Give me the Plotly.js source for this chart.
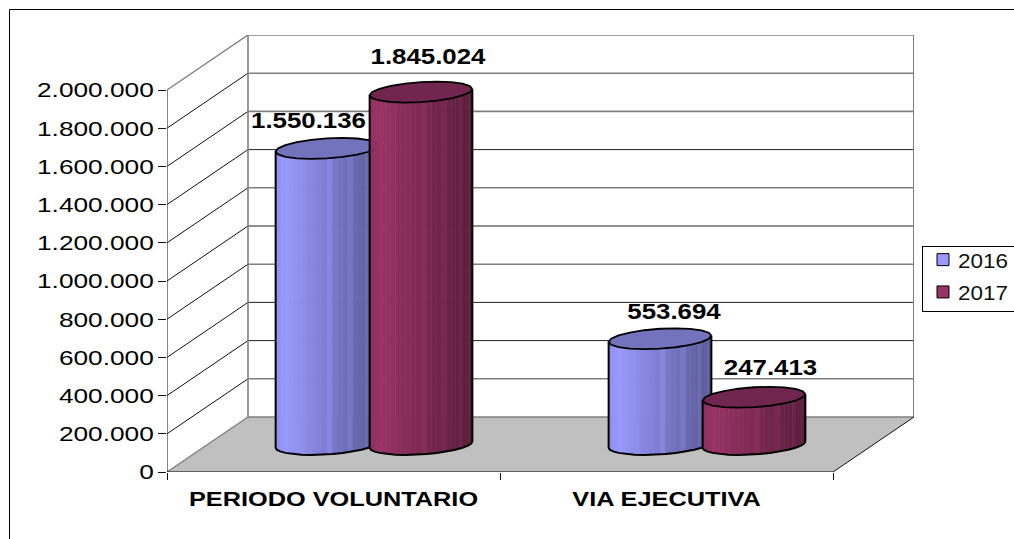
<!DOCTYPE html>
<html><head><meta charset="utf-8">
<script src="https://cdn.plot.ly/plotly-3.0.0.min.js"></script>
<style>html,body{margin:0;padding:0;width:1014px;height:539px;overflow:hidden;background:#fff}</style>
</head><body><div id="chart"></div>
<script>
// ---- data ----
const categories = ['PERIODO VOLUNTARIO', 'VIA EJECUTIVA'];
const seriesNames = ['2016', '2017'];
const values2016 = [1550136, 553694];
const values2017 = [1845024, 247413];
const yTicks = [0, 200000, 400000, 600000, 800000, 1000000, 1200000, 1400000, 1600000, 1800000, 2000000];
// label offset from the top centre of each cylinder, in screen pixels
const labelShift2016 = [[-18.5, -26], [14, -25]];
const labelShift2017 = [[7, -34], [16.5, -28]];
// ---- appearance ----
const gridDark = [false, false, true, true, false, true, false, true, false, false, false];
const colours = {'2016': [153, 153, 255], '2017': [153, 51, 102]};
const topColours = {'2016': '#7272BD', '2017': '#70264F'};
const faintFacets = [15, 19, 23, 26];

// ---- layout geometry: plot area in px, and the oblique projection ----
const W = 1100, H = 600, L = 167, R = 914, T = 35, B = 472;
const pxPerCat = 333, pxPerVal = 382 / 2000000;
const depthPxX = 81, depthPxY = 55;
const DX = depthPxX / pxPerCat, DY = depthPxY / pxPerVal;
const xMax = (R - L) / pxPerCat, yMax = (B - T) / pxPerVal;
const proj = (x, v, d) => [x + d * DX, v + d * DY];

const traces = [];
const line = (pts, color, width) => traces.push({type: 'scatter', mode: 'lines', x: pts.map(p => p[0]), y: pts.map(p => p[1]),
  line: {color, width}, showlegend: false, hoverinfo: 'skip', cliponaxis: false});
const fill = (pts, color, lineColor, lineWidth) => traces.push({type: 'scatter', mode: lineWidth ? 'lines' : 'none', fill: 'toself', fillcolor: color,
  x: pts.map(p => p[0]), y: pts.map(p => p[1]), line: {color: lineColor || color, width: lineWidth || 0},
  showlegend: false, hoverinfo: 'skip', cliponaxis: false});

// walls and floor
const topTick = yTicks[yTicks.length - 1];
fill([proj(0, 0, 0), proj(2, 0, 0), proj(2, 0, 1), proj(0, 0, 1), proj(0, 0, 0)], '#C0C0C0');
yTicks.forEach((v, i) => {
  const edge = i === 0 || i === yTicks.length - 1;
  line([proj(0, v, 1), proj(2, v, 1)], gridDark[i] ? '#222222' : '#7F7F7F', gridDark[i] ? 1 : 1.6);
  line([proj(0, v, 0), proj(0, v, 1)], edge ? '#7F7F7F' : '#111111', edge ? 1.4 : 1);
});
line([proj(0, 0, 1), proj(0, topTick, 1)], '#7F7F7F', 1.6);
line([proj(2, 0, 1), proj(2, topTick, 1)], '#7F7F7F', 2);
line([proj(0, 0, 0), proj(0, topTick, 0)], '#111111', 1);
line([proj(0, 0, 0), proj(2, 0, 0)], '#000000', 1.2);
line([proj(2, 0, 0), proj(2, 0, 1)], '#111111', 1);

// cylinders
const rad = 49 / pxPerCat, depthRad = 0.19, catShift = 47 / pxPerCat;
const tRight = Math.atan2(depthRad * depthPxX, 49);
const rim = (cx, v, t) => proj(cx + rad * Math.cos(t), v, 0.5 + depthRad * Math.sin(t));
function cylinder(cx, v, name) {
  const N = 30, c = colours[name], halfW = Math.hypot(49, depthRad * depthPxX) / pxPerCat;
  const ts = [];
  for (let i = 0; i <= N; i++) ts.push(tRight + Math.PI + Math.PI * i / N);
  for (let i = 0; i < N; i++) {
    const p = rim(cx, 0, (ts[i] + ts[i + 1]) / 2)[0];
    const f = (p - (cx + 0.5 * DX - halfW)) / (2 * halfW);
    let k = (f < 0.1 ? 0.93 + 0.7 * f : 1 - 0.42 * (f - 0.1) / 0.9);
    if (faintFacets.includes(i)) k *= 1.1;
    const col = `rgb(${c.map(a => Math.min(255, Math.round(a * k))).join(',')})`;
    fill([rim(cx, 0, ts[i]), rim(cx, 0, ts[i + 1]), rim(cx, v, ts[i + 1]), rim(cx, v, ts[i]), rim(cx, 0, ts[i])], col, col, 0.6);
  }
  const outline = [rim(cx, v, ts[0])].concat(ts.filter((_, i) => i % 2 === 0).map(t => rim(cx, 0, t)), [rim(cx, v, ts[N])]);
  line(outline, '#000000', 2);
  const ring = [];
  for (let i = 0; i <= 20; i++) ring.push(rim(cx, v, tRight + 2 * Math.PI * i / 20));
  fill(ring, topColours[name], '#000000', 1.8);
}
categories.forEach((_, i) => {
  cylinder(i + 0.5 - catShift, values2016[i], '2016');
  cylinder(i + 0.5 + catShift, values2017[i], '2017');
});

// data labels
const fmt = n => String(n).replace(/\B(?=(\d{3})+$)/g, '.');
const lx = [], ly = [], lt = [];
categories.forEach((_, i) => {
  [[values2016, labelShift2016, -catShift], [values2017, labelShift2017, catShift]].forEach(([vals, sh, off]) => {
    const c = proj(i + 0.5 + off, vals[i], 0.5);
    lx.push(c[0] + sh[i][0] / pxPerCat);
    ly.push(c[1] - sh[i][1] / pxPerVal);
    lt.push(fmt(vals[i]));
  });
});
traces.push({type: 'scatter', mode: 'text', x: lx, y: ly, text: lt, textposition: 'middle center', cliponaxis: false,
  textfont: {family: 'Liberation Sans, Arial, sans-serif', size: 22, color: '#000', weight: 700}, showlegend: false, hoverinfo: 'skip'});

// legend entries
seriesNames.forEach((n, i) => traces.push({type: 'bar', x: [null], y: [null], name: n,
  marker: {color: `rgb(${colours[n].join(',')})`, line: {color: '#000', width: 1}}, hoverinfo: 'skip'}));

const pw = R - L, ph = B - T;
const xp = px => (px - L) / pw, yp = py => (B - py) / ph;
const layout = {
  width: W, height: H, autosize: false, showlegend: true,
  margin: {l: L, r: W - R, t: T, b: H - B, pad: 0, autoexpand: false},
  paper_bgcolor: 'rgba(0,0,0,0)', plot_bgcolor: 'rgba(0,0,0,0)',
  font: {family: 'Liberation Sans, Arial, sans-serif', color: '#000'},
  separators: ',.',
  xaxis: {type: 'linear', range: [0, xMax], showgrid: false, zeroline: false, showline: false, fixedrange: true,
    tickmode: 'array', tickvals: [0.5, 1.5], ticktext: categories, ticks: '', ticklen: 0, ticklabelstandoff: 12,
    tickfont: {size: 21, weight: 700, color: '#000'},
    minor: {tickmode: 'array', tickvals: [0, 1, 2], ticks: 'outside', ticklen: 7, tickwidth: 1, tickcolor: '#111', showgrid: false}},
  yaxis: {type: 'linear', range: [0, yMax], showgrid: false, zeroline: false, showline: false, fixedrange: true,
    tickmode: 'array', tickvals: yTicks, tickformat: ',.0f', ticks: 'outside', ticklen: 8, tickwidth: 1, tickcolor: '#111',
    tickfont: {size: 21, color: '#000'}},
  legend: {x: xp(922), y: yp(245.5), xanchor: 'left', yanchor: 'top', bgcolor: '#fff', bordercolor: '#000', borderwidth: 1,
    font: {size: 21, color: '#111'}, entrywidth: 140, entrywidthmode: 'pixels', itemclick: false, itemdoubleclick: false},
  shapes: [
    {type: 'line', xref: 'paper', yref: 'paper', x0: xp(9.5), y0: yp(9.5), x1: xp(W), y1: yp(9.5), line: {color: '#000', width: 1}},
    {type: 'line', xref: 'paper', yref: 'paper', x0: xp(9.5), y0: yp(9.5), x1: xp(9.5), y1: yp(H), line: {color: '#000', width: 1}}
  ]
};
const stretch = (sel, f) => document.querySelectorAll(sel).forEach(t => {
  t.setAttribute('textLength', t.getComputedTextLength() * f);
  t.setAttribute('lengthAdjust', 'spacingAndGlyphs');
});
Plotly.newPlot('chart', traces, layout, {displayModeBar: false, staticPlot: true}).then(() => {
  stretch('.ytick text', 1.25);
  stretch('.xtick text', 1.205);
  stretch('.textpoint text', 1.174);
  stretch('.legendtext', 1.07);
  document.querySelectorAll('.legendtext').forEach(t => t.setAttribute('x', parseFloat(t.getAttribute('x')) - 5));
  // tighten the legend box to the reference's height and entry spacing
  const bg = document.querySelector('.legend .bg');
  if (bg) bg.setAttribute('height', 65);
  const nudge = [-7, -5];
  document.querySelectorAll('.legend .traces').forEach((g, i) => {
    const m = /translate\(([-\d.]+),\s*([-\d.]+)\)/.exec(g.getAttribute('transform') || '');
    if (m) g.setAttribute('transform', `translate(${m[1]},${parseFloat(m[2]) + nudge[i]})`);
  });
  const sb = document.querySelector('.legend .scrollbox');
  if (sb) sb.removeAttribute('clip-path');
});
</script></body></html>
